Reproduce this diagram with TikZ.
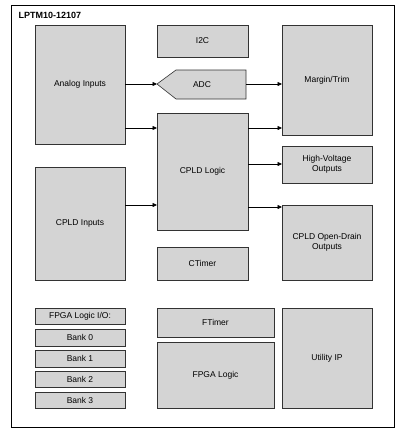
\documentclass[tikz,border=0pt]{standalone}
\usepackage{fontspec}
\setmainfont{Liberation Sans}
\usetikzlibrary{arrows.meta}
\begin{document}
\begin{tikzpicture}[x=1pt,y=-1pt,
  blk/.style={draw=black!80,fill=black!17,line width=0.6pt,inner sep=0pt},
  lbl/.style={font=\fontsize{8.5}{10}\selectfont,align=center},
  arr/.style={-{Triangle[length=4.5pt,width=4pt]},line width=0.7pt,black}]
\useasboundingbox (0,0) rectangle (403,434);
\fill[white] (0,0) rectangle (403,434);
\draw[line width=0.9pt] (11,5) rectangle (394,427);
\node[anchor=west,font=\bfseries\fontsize{9}{10}\selectfont] (title) at (15,15) {LPTM10-12107};
% boxes
\draw[blk] (35,25) rectangle (125,144) node[midway,lbl] (ai) {Analog Inputs};
\coordinate (aiR) at (125,0);
\draw[blk] (157,25) rectangle (248,57) node[midway,lbl] (i2c) {I2C};
\draw[blk] (157,84) -- (176,70) -- (246,70) -- (246,99) -- (176,99) -- cycle;
\node[lbl] (adc) at (202,84.5) {ADC};
\draw[blk] (157,113) rectangle (248,230) node[midway,lbl] (cl) {CPLD Logic};
\draw[blk] (157,247) rectangle (248,280) node[midway,lbl] (ct) {CTimer};
\draw[blk] (282,25) rectangle (372,135) node[midway,lbl] (mt) {Margin/Trim};
\draw[blk] (282,146) rectangle (372,183) node[midway,lbl] (hv) {High-Voltage\\Outputs};
\draw[blk] (282,205) rectangle (372,280) node[midway,lbl] (od) {CPLD Open-Drain\\Outputs};
\draw[blk] (35,167) rectangle (125,280) node[midway,lbl] (ci) {CPLD Inputs};
\draw[blk] (35,308) rectangle (125,324) node[midway,lbl] (fio) {FPGA Logic I/O:};
\draw[blk] (35,329) rectangle (125,346) node[midway,lbl] (b0) {Bank 0};
\draw[blk] (35,350) rectangle (125,367) node[midway,lbl] (b1) {Bank 1};
\draw[blk] (35,371) rectangle (125,387) node[midway,lbl] (b2) {Bank 2};
\draw[blk] (35,392) rectangle (125,408) node[midway,lbl] (b3) {Bank 3};
\draw[blk] (157,308) rectangle (274,337) node[midway,lbl] (ft) {FTimer};
\draw[blk] (157,342) rectangle (274,408) node[midway,lbl] (fl) {FPGA Logic};
\draw[blk] (282,308) rectangle (372,408) node[midway,lbl] (ui) {Utility IP};
% connector endpoints
\coordinate (a1) at (125,84); \coordinate (a1e) at (157,84);
\coordinate (a2) at (125,128); \coordinate (a2e) at (157,128);
\coordinate (a3) at (125,205); \coordinate (a3e) at (157,205);
\coordinate (a4) at (246,84); \coordinate (a4e) at (282,84);
\coordinate (a5) at (248,128); \coordinate (a5e) at (282,128);
\coordinate (a6) at (248,164); \coordinate (a6e) at (282,164);
\coordinate (a7) at (248,207); \coordinate (a7e) at (282,207);
\draw[arr] (a1) -- (a1e);
\draw[arr] (a2) -- (a2e);
\draw[arr] (a3) -- (a3e);
\draw[arr] (a4) -- (a4e);
\draw[arr] (a5) -- (a5e);
\draw[arr] (a6) -- (a6e);
\draw[arr] (a7) -- (a7e);
\end{tikzpicture}
\end{document}
